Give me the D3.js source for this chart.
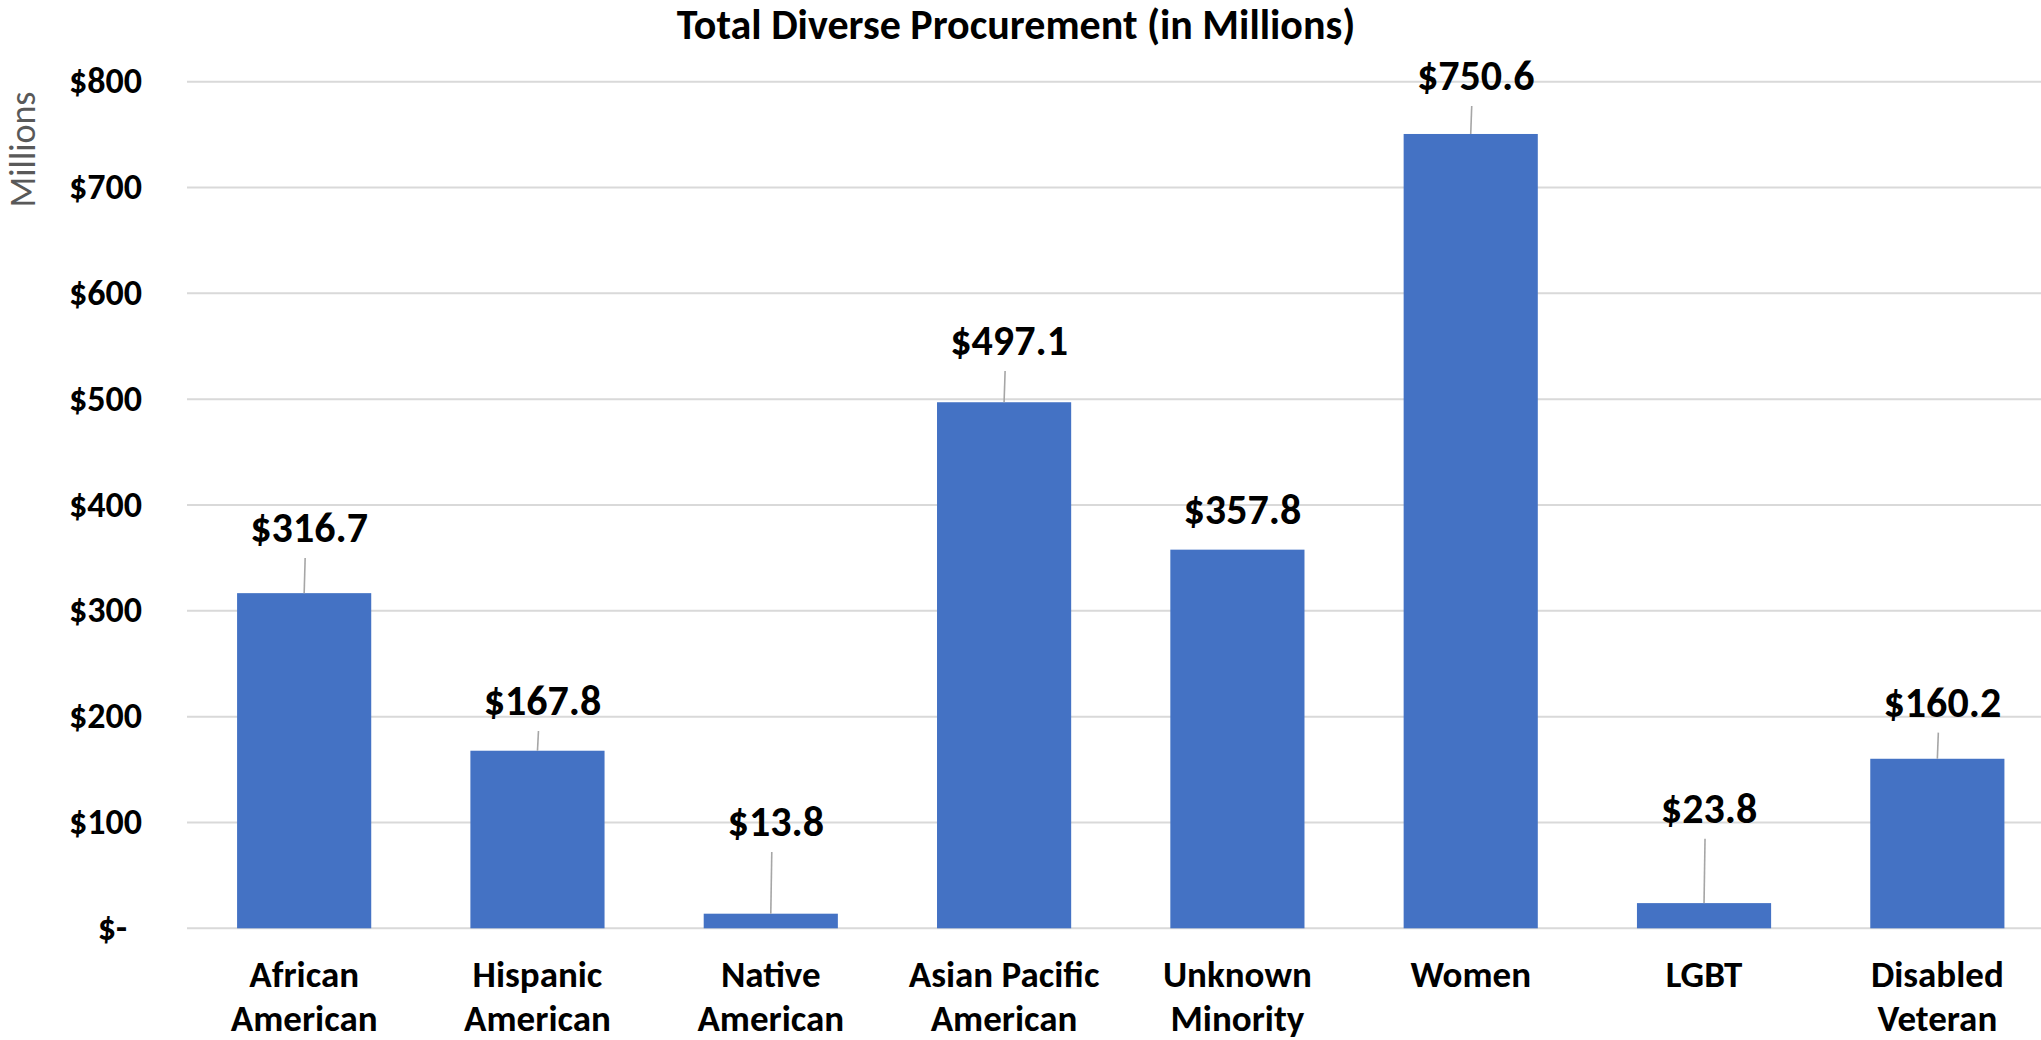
<!DOCTYPE html>
<html><head><meta charset="utf-8">
<script src="https://cdn.jsdelivr.net/npm/d3@7"></script>
<style>
html,body{margin:0;padding:0;background:#fff;overflow:hidden}
text{font-family:Carlito,Calibri,"Open Sans",sans-serif}
</style></head>
<body><svg id="c" width="2041" height="1040"></svg>
<script>
// ---- data ----
const categories = [["African","American"],["Hispanic","American"],["Native","American"],["Asian Pacific","American"],["Unknown","Minority"],["Women"],["LGBT"],["Disabled","Veteran"]];
const values = [316.7,167.8,13.8,497.1,357.8,750.6,23.8,160.2];
// where each data label sits (baseline, in axis units – labels were moved by hand in the original)
const labelAnchor = [365.0,201.6,87.2,541.7,382.1,792.2,99.8,200.0];
const hasLeader = [true,true,true,true,false,true,true,true];
const yTicks = [0,100,200,300,400,500,600,700,800];
const title = "Total Diverse Procurement (in Millions)";
const yAxisTitle = "Millions";

// ---- chart ----
const svg = d3.select("#c");
const keys = categories.map(d=>d.join(" "));
const x = d3.scaleBand().domain(keys).range([187.5,2054]).paddingInner(0.425).paddingOuter(0.2125);
const y = d3.scaleLinear().domain([0,800]).range([928.3,81.7]);
const cx = i => x(keys[i]) + x.bandwidth()/2;

// gridlines
svg.append("g").selectAll("line").data(yTicks).join("line")
  .attr("x1",187).attr("x2",2041)
  .attr("y1",d=>y(d)).attr("y2",d=>y(d))
  .attr("stroke","#d9d9d9").attr("stroke-width",2);

// y tick labels
const fmt = d => d===0 ? "$-" : "$"+d;
svg.append("g").selectAll("text").data(yTicks).join("text")
  .attr("x",d=>d===0?127:142).attr("y",d=>y(d)+11.5)
  .attr("text-anchor","end").attr("font-weight","bold").attr("font-size",36)
  .attr("fill","#000").text(fmt);

// bars
svg.append("g").selectAll("rect").data(values).join("rect")
  .attr("x",(d,i)=>x(keys[i])).attr("width",x.bandwidth())
  .attr("y",d=>y(d)).attr("height",d=>y(0)-y(d))
  .attr("fill","#4472C4");

// leader lines
const idx = values.map((d,i)=>i).filter(i=>hasLeader[i]);
svg.append("g").selectAll("line").data(idx).join("line")
  .attr("x1",i=>cx(i)+1).attr("x2",i=>cx(i))
  .attr("y1",i=>y(labelAnchor[i])+16).attr("y2",i=>y(values[i]))
  .attr("stroke","#a6a6a6").attr("stroke-width",1.6);

// data labels
svg.append("g").selectAll("text").data(values).join("text")
  .attr("x",(d,i)=>cx(i)+5).attr("y",(d,i)=>y(labelAnchor[i]))
  .attr("text-anchor","middle").attr("font-weight","bold").attr("font-size",42)
  .text(d=>"$"+d.toFixed(1));

// category labels
const cg = svg.append("g").selectAll("text").data(categories).join("text")
  .attr("text-anchor","middle").attr("font-weight","bold").attr("font-size",37)
  .attr("x",(d,i)=>cx(i)).attr("y",987);
cg.each(function(d,i){
  d3.select(this).selectAll("tspan").data(d).join("tspan")
    .attr("x",cx(i)).attr("dy",(t,j)=>j===0?0:44).text(t=>t);
});

// title
svg.append("text").attr("x",1016).attr("y",39).attr("text-anchor","middle")
  .attr("font-weight","bold").attr("font-size",42).text(title);
// y axis title (sized to span ~116px like the original)
const yt = svg.append("text").attr("transform","translate(35,149.5) rotate(-90)")
  .attr("text-anchor","middle").attr("font-size",34).attr("fill","#595959").text(yAxisTitle);
const L = yt.node().getComputedTextLength();
if (L > 0) yt.attr("font-size", Math.min(40, 34*116/L));
</script></body></html>
